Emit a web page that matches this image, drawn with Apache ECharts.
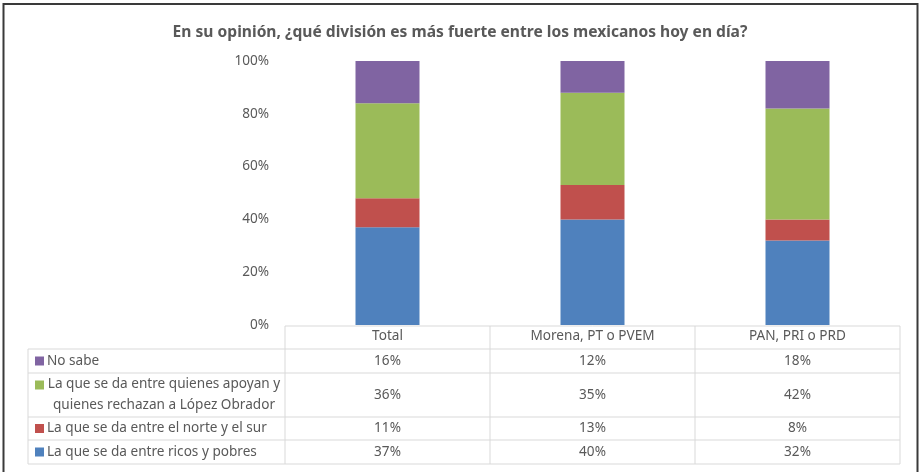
<!DOCTYPE html>
<html>
<head>
<meta charset="utf-8">
<script src="https://cdn.jsdelivr.net/npm/echarts@6/dist/echarts.min.js"></script>
<style>
  html, body { margin: 0; padding: 0; background: #fff; }
  #chart { width: 920px; height: 472px; }
</style>
</head>
<body>
<div id="chart"></div>
<script>
const categories = ['Total', 'Morena, PT o PVEM', 'PAN, PRI o PRD'];
const seriesNames = [
  'La que se da entre ricos y pobres',
  'La que se da entre el norte y el sur',
  'La que se da entre quienes apoyan y\nquienes rechazan a López Obrador',
  'No sabe'
];
const ricosPobres = [37, 40, 32];
const norteSur = [11, 13, 8];
const apoyanRechazan = [36, 35, 42];
const noSabe = [16, 12, 18];
const colors = ['#4F81BD', '#C0504D', '#9BBB59', '#8064A2'];

const values = [ricosPobres, norteSur, apoyanRechazan, noSabe];
const font = 'Noto Sans';
const textColor = '#595959';
const lineColor = '#d9d9d9';
const fs = 13.6;

const chart = echarts.init(document.getElementById('chart'));

let option = {
  animation: false,
  title: {
    text: 'En su opinión, ¿qué división es más fuerte entre los mexicanos hoy en día?',
    left: 'center',
    top: 20,
    textStyle: { fontFamily: font, fontSize: 15.6, fontWeight: 'bold', color: textColor }
  },
  grid: { left: 285, right: 20, top: 61, bottom: 147 },
  xAxis: {
    type: 'category',
    data: categories,
    axisLine: { show: false },
    axisTick: { show: false },
    axisLabel: { margin: 4, fontFamily: font, fontSize: fs, color: textColor }
  },
  yAxis: {
    type: 'value',
    min: 0,
    max: 100,
    interval: 20,
    splitLine: { show: false },
    axisLabel: { margin: 16, fontFamily: font, fontSize: fs, color: textColor, formatter: '{value}%' }
  },
  series: values.map((v, i) => ({
    name: seriesNames[i],
    type: 'bar',
    stack: 'total',
    barWidth: 64,
    data: v,
    itemStyle: { color: colors[i] }
  }))
};
chart.setOption(option);

// data table below the plot, columns follow the category axis
const rowTops = [326, 349, 373, 417, 440, 464];
const labelLeft = 28;
const band = chart.convertToPixel({ xAxisIndex: 0 }, categories[1]) - chart.convertToPixel({ xAxisIndex: 0 }, categories[0]);
const centers = categories.map(c => chart.convertToPixel({ xAxisIndex: 0 }, c));
const colEdges = [centers[0] - band / 2].concat(centers.map(c => c + band / 2));
const tableRight = colEdges[colEdges.length - 1];

const graphics = [];
const line = (x1, y1, x2, y2) => graphics.push({
  type: 'line', silent: true,
  shape: { x1, y1, x2, y2 },
  style: { stroke: lineColor, lineWidth: 1 }
});

// header row
line(colEdges[0], rowTops[0], tableRight, rowTops[0]);
colEdges.forEach(x => line(x, rowTops[0], x, rowTops[5]));
for (let r = 1; r < rowTops.length; r++) line(labelLeft, rowTops[r], tableRight, rowTops[r]);
line(labelLeft, rowTops[1], labelLeft, rowTops[5]);

// rows: reverse stacking order
for (let r = 0; r < 4; r++) {
  const s = 3 - r;
  const yMid = (rowTops[r + 1] + rowTops[r + 2]) / 2;
  graphics.push({
    type: 'rect', silent: true,
    shape: { x: 35, y: (s === 2 ? rowTops[r + 1] + 12 : yMid) - 4.5, width: 9, height: 9 },
    style: { fill: colors[s] }
  });
  const multi = seriesNames[s].indexOf('\n') >= 0;
  graphics.push({
    type: 'text', silent: true,
    x: multi ? 164 : 47, y: yMid,
    style: {
      text: seriesNames[s],
      fontFamily: font, fontSize: fs, fill: textColor,
      align: multi ? 'center' : 'left', verticalAlign: 'middle', lineHeight: 21
    }
  });
  centers.forEach((cx, c) => graphics.push({
    type: 'text', silent: true,
    x: cx, y: yMid,
    style: {
      text: values[s][c] + '%',
      fontFamily: font, fontSize: fs, fill: textColor,
      align: 'center', verticalAlign: 'middle'
    }
  }));
}

// outer frame
graphics.push({
  type: 'rect', silent: true,
  shape: { x: 3.5, y: 4, width: 914, height: 480 },
  style: { fill: null, stroke: '#3a3a3a', lineWidth: 2 }
});

chart.setOption({ graphic: graphics });
</script>
</body>
</html>
